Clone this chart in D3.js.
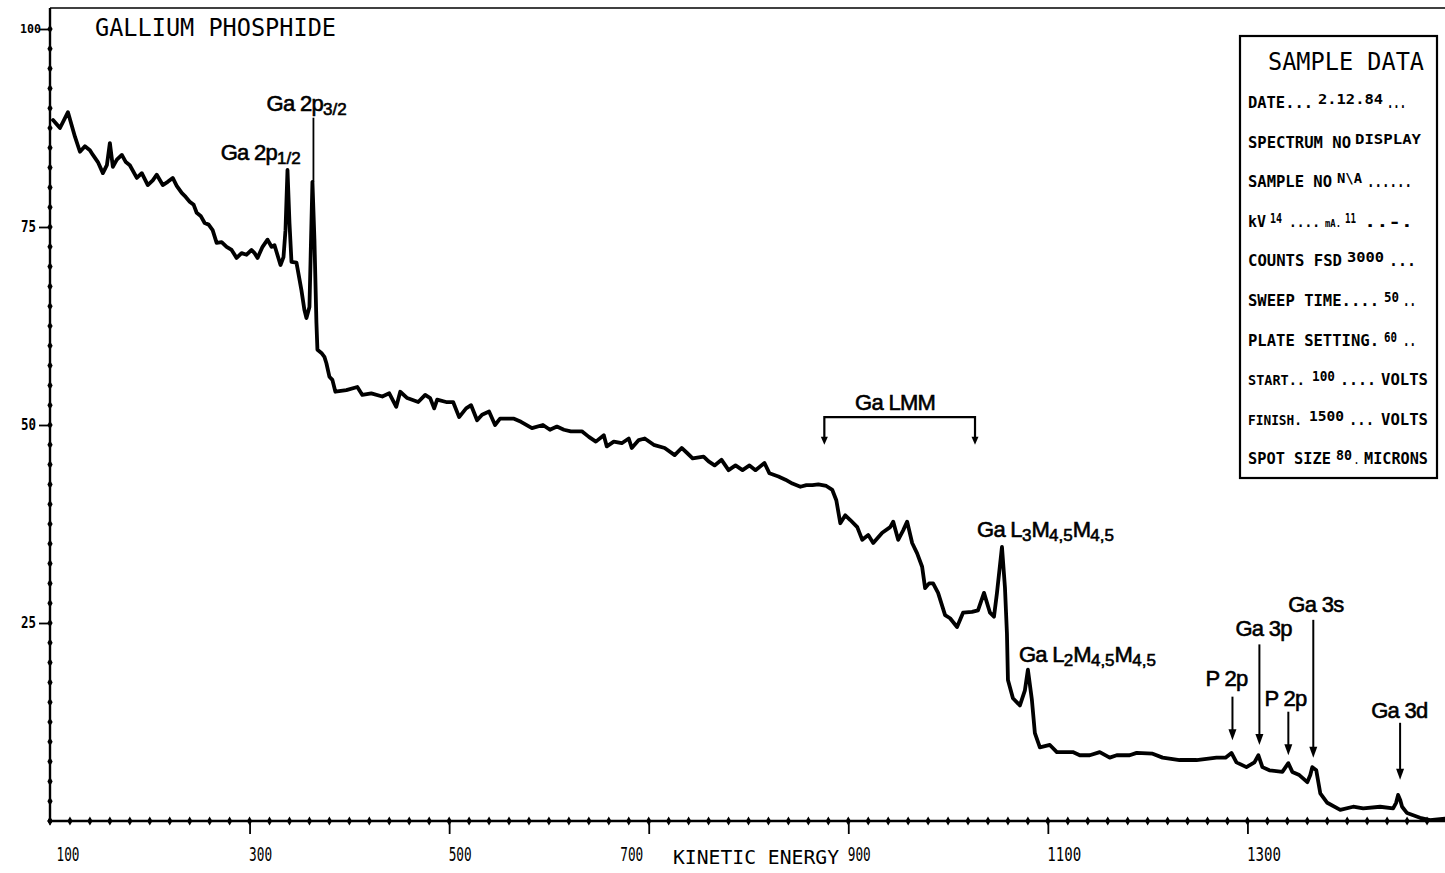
<!DOCTYPE html>
<html>
<head>
<meta charset="utf-8">
<script src="https://cdn.jsdelivr.net/npm/d3@7"></script>
<style>
  html, body { margin: 0; padding: 0; background: #fff; }
  svg { display: block; }
</style>
</head>
<body>
<div id="chart"></div>
<script>
// kinetic energy (eV) and intensity (% of full scale)
const energy = [
  103, 110, 118, 125, 130, 135, 140, 143, 148, 153, 157, 160, 163, 167, 172, 176, 180, 187, 192, 198,
  203, 207, 213, 218, 223, 227, 232, 236, 240, 244, 247, 251, 255, 259, 263, 267, 272, 277, 282, 287,
  292, 297, 302, 305, 308, 313, 318, 322, 325, 331, 334, 336, 338, 340, 342, 347, 352, 355, 357, 360,
  362, 363, 365, 367, 368, 372, 375, 377, 380, 383, 386, 397, 408, 413, 422, 433, 440, 447, 451, 458,
  469, 476, 481, 485, 488, 497, 504, 510, 517, 522, 528, 533, 540, 546, 551, 565, 572, 583, 594, 601,
  608, 615, 622, 633, 640, 647, 655, 658, 665, 673, 680, 683, 690, 696, 705, 716, 726, 733, 739, 744,
  755, 760, 766, 773, 780, 787, 794, 801, 807, 816, 821, 830, 837, 844, 852, 858, 864, 870, 878, 884,
  888, 892, 897, 902, 909, 914, 920, 925, 934, 942, 945, 950, 955, 959, 964, 969, 974, 977, 981, 985,
  990, 997, 1002, 1009, 1015, 1024, 1030, 1036, 1042, 1046, 1049, 1054, 1057, 1059, 1060, 1065, 1072, 1077, 1080, 1084,
  1087, 1092, 1102, 1109, 1115, 1125, 1132, 1142, 1152, 1162, 1169, 1182, 1189, 1205, 1215, 1232, 1249, 1269, 1278, 1284,
  1289, 1299, 1307, 1311, 1315, 1322, 1335, 1341, 1345, 1352, 1360, 1363, 1365, 1369, 1373, 1380, 1393, 1406, 1416, 1433,
  1446, 1449, 1451, 1453, 1455, 1460, 1473, 1483, 1498
];
const counts = [
  88.5, 87.5, 89.5, 86.4, 84.5, 85.2, 84.7, 84.1, 83.2, 81.8, 82.8, 85.6, 82.6, 83.5, 84.1, 83.2, 82.8, 81.2, 81.8, 80.3,
  80.9, 81.6, 80.3, 80.7, 81.2, 80.2, 79.3, 78.8, 78.2, 77.8, 76.8, 76.4, 75.5, 75.3, 74.6, 73.0, 73.1, 72.5, 72.1, 71.1,
  71.7, 71.5, 72.1, 71.7, 71.1, 72.5, 73.4, 72.5, 72.7, 70.2, 71.2, 74.6, 82.2, 75.5, 70.6, 70.5, 67.0, 64.5, 63.5, 64.9,
  75.5, 80.7, 73.4, 62.9, 59.5, 59.1, 58.6, 57.8, 56.1, 55.7, 54.2, 54.4, 54.8, 53.8, 54.0, 53.6, 54.0, 52.3, 54.2, 53.4,
  52.9, 53.8, 53.4, 52.1, 53.2, 52.9, 52.9, 51.0, 52.1, 52.5, 50.6, 51.3, 51.7, 50.0, 50.8, 50.8, 50.4, 49.6, 50.0, 49.4,
  49.8, 49.4, 49.2, 49.2, 48.5, 47.9, 48.7, 47.3, 47.9, 47.7, 48.3, 47.1, 48.1, 48.3, 47.5, 47.1, 46.2, 47.1, 46.4, 45.8,
  46.0, 45.4, 44.9, 45.6, 44.3, 44.9, 44.3, 44.9, 44.3, 45.2, 43.9, 43.5, 43.1, 42.6, 42.2, 42.4, 42.4, 42.5, 42.3, 41.8,
  40.5, 37.6, 38.6, 38.0, 37.1, 35.5, 36.1, 35.1, 36.4, 37.1, 37.8, 35.5, 36.7, 37.8, 35.1, 33.8, 32.1, 29.4, 30.0, 30.0,
  28.8, 26.0, 25.6, 24.5, 26.3, 26.4, 26.6, 28.8, 26.3, 25.8, 28.8, 34.6, 29.5, 23.7, 17.8, 15.5, 14.6, 16.5, 19.1, 15.3,
  11.1, 9.3, 9.6, 8.7, 8.7, 8.7, 8.3, 8.3, 8.7, 8.0, 8.3, 8.3, 8.6, 8.5, 8.0, 7.7, 7.7, 8.0, 8.0, 8.6,
  7.4, 6.8, 7.4, 8.3, 6.8, 6.4, 6.2, 7.3, 6.2, 5.8, 4.9, 5.8, 6.8, 6.4, 3.5, 2.3, 1.4, 1.8, 1.6, 1.8,
  1.6, 2.3, 3.3, 2.7, 1.8, 1.0, 0.4, 0.1, 0.3
];

const xTickValues = [100, 300, 500, 700, 900, 1100, 1300];
const yTickValues = [25, 50, 75, 100];
const xDomain = [100, 1500];
const yDomain = [0, 100];

// peak labels: text parts (sub = subscript), anchor in energy / intensity units
const peakLabels = [
  { parts: [["Ga 2p"], ["1/2", "sub"]], e: 271, v: 83.5 },
  { parts: [["Ga 2p"], ["3/2", "sub"]], e: 317, v: 89.6 },
  { parts: [["Ga LMM"]], e: 947, v: 51.9, anchor: "middle" },
  { parts: [["Ga L"], ["3", "sub"], ["M"], ["4,5", "sub"], ["M"], ["4,5", "sub"]], e: 1029, v: 35.9 },
  { parts: [["Ga L"], ["2", "sub"], ["M"], ["4,5", "sub"], ["M"], ["4,5", "sub"]], e: 1071, v: 20.1 },
  { parts: [["P 2p"]], e: 1258, v: 17.0 },
  { parts: [["Ga 3p"]], e: 1288, v: 23.3 },
  { parts: [["P 2p"]], e: 1317, v: 14.5 },
  { parts: [["Ga 3s"]], e: 1341, v: 26.4 },
  { parts: [["Ga 3d"]], e: 1424, v: 13.0 }
];

// pointers: energy, top and bottom intensity, with or without arrow head
const pointers = [
  { e: 364, top: 88.8, bottom: 80.7, head: false },
  { e: 1285, top: 15.7, bottom: 10.2, head: true },
  { e: 1312, top: 22.3, bottom: 9.6, head: true },
  { e: 1341, top: 13.8, bottom: 8.3, head: true },
  { e: 1366, top: 25.4, bottom: 8.0, head: true },
  { e: 1453, top: 12.4, bottom: 5.2, head: true }
];

const lmmBracket = { from: 876, to: 1027, top: 51.0, bottom: 47.5 };

// sample data card: each row is a list of pieces, values are written raised
const sampleTitle = "SAMPLE DATA";
const sampleRows = [
  [["DATE..."], ["2.12.84", "value"], ["..."]],
  [["SPECTRUM NO"], ["DISPLAY", "value"]],
  [["SAMPLE NO"], ["N\\A", "value"], ["......"]],
  [["kV"], ["14", "value"], ["...."], ["mA."], ["11", "value"], ["..-."]],
  [["COUNTS FSD"], ["3000", "value"], ["..."]],
  [["SWEEP TIME...."], ["50", "value"], [".."]],
  [["PLATE SETTING."], ["60", "value"], [".."]],
  [["START.."], ["100", "value"], ["...."], ["VOLTS"]],
  [["FINISH."], ["1500", "value"], ["..."], ["VOLTS"]],
  [["SPOT SIZE"], ["80", "value"], ["."], ["MICRONS"]]
];
// extent of every piece inside the card in pixels, with an optional font size
const sampleLayout = [
  [[8, 73], [78, 143], [147, 166]],
  [[8, 111], [115, 181]],
  [[8, 92], [97, 122], [127, 172]],
  [[8, 26], [30, 42], [49, 80, 14], [85, 101, 10], [105, 116], [124, 173]],
  [[8, 102], [107, 144], [149, 176]],
  [[8, 139], [144, 159], [163, 176]],
  [[8, 139], [144, 157], [163, 176]],
  [[8, 65, 14], [72, 95], [100, 136], [141, 188]],
  [[8, 62, 14], [69, 104], [109, 134], [141, 188]],
  [[8, 91], [96, 112], [114, 119, 10], [124, 188]]
];

const width = 1445;
const height = 873;
const plotterFont = "'DejaVu Sans Mono', 'Liberation Mono', monospace";
const labelFont = "'Liberation Sans', Arial, sans-serif";

const x = d3.scaleLinear().domain(xDomain).range([50, 1447]);
const y = d3.scaleLinear().domain(yDomain).range([821, 29]);

const svg = d3.select("#chart").append("svg")
  .attr("width", width)
  .attr("height", height)
  .attr("viewBox", [0, 0, width, height]);

svg.append("rect").attr("width", width).attr("height", height).attr("fill", "#fff");

// frame: top rule, left axis line and base line
svg.append("line")
  .attr("x1", x(100)).attr("x2", width).attr("y1", 8).attr("y2", 8)
  .attr("stroke", "#000").attr("stroke-width", 1.5);

svg.append("line")
  .attr("x1", x(100)).attr("x2", x(100)).attr("y1", 8).attr("y2", y(0))
  .attr("stroke", "#000").attr("stroke-width", 2.4);

svg.append("line")
  .attr("x1", x(100)).attr("x2", width).attr("y1", y(0)).attr("y2", y(0))
  .attr("stroke", "#000").attr("stroke-width", 2.4);

// x axis major ticks
const xAxis = d3.axisBottom(x).tickValues(xTickValues).tickSize(13).tickFormat(d3.format("d"));
const xAxisG = svg.append("g")
  .attr("transform", `translate(0, ${y(0)})`)
  .call(xAxis);
xAxisG.select(".domain").remove();
xAxisG.selectAll(".tick line").attr("stroke", "#000").attr("stroke-width", 1.8);
xAxisG.selectAll(".tick text")
  .attr("font-family", plotterFont)
  .attr("font-size", 19)
  .attr("fill", "#000")
  .attr("y", 40)
  .attr("dy", 0)
  .attr("text-anchor", (d) => (d === 700 ? "end" : "start"))
  .attr("x", (d) => (d === 100 ? 6 : d === 700 ? -6 : -1))
  .attr("textLength", (d) => (d >= 1000 ? 34 : 23))
  .attr("lengthAdjust", "spacingAndGlyphs");
xAxisG.selectAll(".tick").filter((d) => d === 100).select("line").remove();

svg.append("text")
  .attr("x", 673)
  .attr("y", y(0) + 43)
  .attr("font-family", plotterFont)
  .attr("font-size", 20)
  .attr("textLength", 166)
  .attr("lengthAdjust", "spacingAndGlyphs")
  .text("KINETIC ENERGY");

// x axis minor dots every 20 eV
svg.append("g")
  .selectAll("path")
  .data(d3.range(100, 1501, 20))
  .join("path")
  .attr("transform", (d) => `translate(${x(d)}, ${y(0)})`)
  .attr("d", d3.symbol(d3.symbolDiamond, 24))
  .attr("fill", "#000");

// y axis
const yAxis = d3.axisLeft(y).tickValues(yTickValues).tickSize(11).tickFormat(d3.format("d"));
const yAxisG = svg.append("g")
  .attr("transform", `translate(${x(100)}, 0)`)
  .call(yAxis);
yAxisG.select(".domain").remove();
yAxisG.selectAll(".tick line").attr("stroke", "#000").attr("stroke-width", 1.8);
yAxisG.selectAll(".tick text")
  .attr("font-family", plotterFont)
  .attr("font-weight", "bold")
  .attr("font-size", (d) => (d === 100 ? 12 : 15))
  .attr("fill", "#000")
  .attr("x", (d) => (d === 100 ? -9 : -14))
  .attr("textLength", (d) => (d === 100 ? 21 : 15))
  .attr("lengthAdjust", "spacingAndGlyphs");

svg.append("g")
  .selectAll("path")
  .data(d3.range(0, 100.1, 2.5))
  .join("path")
  .attr("transform", (d) => `translate(${x(100)}, ${y(d)})`)
  .attr("d", d3.symbol(d3.symbolDiamond, 24))
  .attr("fill", "#000");

// title
svg.append("text")
  .attr("x", 95)
  .attr("y", 36)
  .attr("font-family", plotterFont)
  .attr("font-size", 24)
  .attr("textLength", 241)
  .attr("lengthAdjust", "spacingAndGlyphs")
  .text("GALLIUM PHOSPHIDE");

// spectrum trace
const spectrum = energy.map((e, i) => ({ e, v: counts[i] }));
const line = d3.line()
  .x((d) => x(d.e))
  .y((d) => y(d.v));

svg.append("path")
  .datum(spectrum)
  .attr("fill", "none")
  .attr("stroke", "#000")
  .attr("stroke-width", 3.8)
  .attr("stroke-linejoin", "round")
  .attr("stroke-linecap", "round")
  .attr("d", line);

// pointers
const pointerG = svg.append("g").attr("stroke", "#000").attr("fill", "#000");
pointers.forEach((p) => {
  pointerG.append("line")
    .attr("x1", x(p.e)).attr("x2", x(p.e))
    .attr("y1", y(p.top)).attr("y2", y(p.bottom) - (p.head ? 6 : 0))
    .attr("stroke-width", p.head ? 2 : 1.8);
  if (p.head) {
    const px = x(p.e);
    const py = y(p.bottom);
    pointerG.append("path")
      .attr("d", `M${px - 4},${py - 11} L${px + 4},${py - 11} L${px},${py} Z`)
      .attr("stroke", "none");
  }
});

// Ga LMM bracket
const b = lmmBracket;
svg.append("path")
  .attr("d", `M${x(b.from)},${y(b.bottom) - 6} V${y(b.top)} H${x(b.to)} V${y(b.bottom) - 6}`)
  .attr("fill", "none")
  .attr("stroke", "#000")
  .attr("stroke-width", 2.2);
[b.from, b.to].forEach((e) => {
  const px = x(e);
  const py = y(b.bottom);
  svg.append("path")
    .attr("d", `M${px - 3.5},${py - 8} L${px + 3.5},${py - 8} L${px},${py} Z`)
    .attr("fill", "#000");
});

// peak labels with subscripts
peakLabels.forEach((lab) => {
  const t = svg.append("text")
    .attr("x", x(lab.e))
    .attr("y", y(lab.v))
    .attr("font-family", labelFont)
    .attr("font-size", 22)
    .attr("letter-spacing", -0.7)
    .attr("stroke", "#000")
    .attr("stroke-width", 0.6)
    .attr("text-anchor", lab.anchor || "start")
    .attr("fill", "#000");
  let shifted = false;
  lab.parts.forEach(([txt, kind]) => {
    const span = t.append("tspan").text(txt);
    if (kind === "sub") {
      span.attr("font-size", 17).attr("letter-spacing", 0).attr("dy", shifted ? 0 : 4);
      shifted = true;
    } else {
      if (shifted) span.attr("dy", -4);
      shifted = false;
    }
  });
});

// sample data box
const box = svg.append("g").attr("transform", "translate(1240, 36)");
box.append("rect")
  .attr("width", 197)
  .attr("height", 442)
  .attr("fill", "#fff")
  .attr("stroke", "#000")
  .attr("stroke-width", 2.2);

box.append("text")
  .attr("x", 28)
  .attr("y", 34)
  .attr("font-family", plotterFont)
  .attr("font-size", 25)
  .attr("textLength", 156)
  .attr("lengthAdjust", "spacingAndGlyphs")
  .text(sampleTitle);

sampleRows.forEach((row, i) => {
  const baseY = 72 + i * 39.6;
  row.forEach(([txt, kind], j) => {
    const [x0, x1, size] = sampleLayout[i][j];
    box.append("text")
      .attr("x", x0)
      .attr("y", kind === "value" ? baseY - 4 : baseY)
      .attr("font-family", plotterFont)
      .attr("font-weight", "bold")
      .attr("font-size", size || (kind === "value" ? 14 : 16))
      .attr("textLength", x1 - x0)
      .attr("lengthAdjust", "spacingAndGlyphs")
      .text(txt);
  });
});
</script>
</body>
</html>
